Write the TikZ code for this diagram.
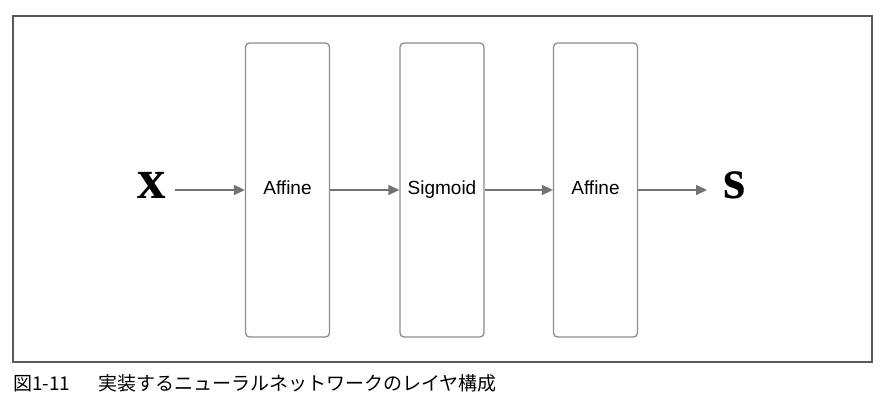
\documentclass[tikz,border=0pt]{standalone}
\usepackage{fontspec}
\setmainfont{Liberation Serif}
\setsansfont{Liberation Sans}
\newfontfamily\jpfont{Noto Sans CJK JP}
\usetikzlibrary{arrows.meta}
\tikzset{
  layer/.style={draw=black!45, line width=1.3pt, rounded corners=4pt,
    minimum width=84pt, minimum height=294pt, inner sep=0pt,
    text height=14pt, text depth=4pt,
    font=\sffamily\fontsize{19}{19}\selectfont},
  signal/.style={font=\bfseries\fontsize{57}{57}\selectfont, inner sep=0pt},
  flow/.style={draw=black!55, line width=1.6pt, -{Triangle[length=11pt,width=10pt]}}
}
\begin{document}
\begin{tikzpicture}[x=1pt,y=-1pt]
\useasboundingbox (0,0) rectangle (887,409);
\draw[black!65, line width=1.3pt] (13,16) rectangle (872,362);
\node[layer] (affA) at (287.5,190) {Affine};
\node[layer] (sigm) at (442,190) {Sigmoid};
\node[layer] (affB) at (595.5,190) {Affine};
\node[signal] (x) at (152,185) {x};
\node[signal] (s) at (735,185) {s};
\coordinate (xout) at (175,190);
\coordinate (sin) at (707,190);
\draw[flow] (xout) -- (affA);
\draw[flow] (affA) -- (sigm);
\draw[flow] (sigm) -- (affB);
\draw[flow] (affB) -- (sin);
\node[anchor=west, inner sep=0pt, font=\jpfont\fontsize{19}{19}\selectfont] (cap) at (13,383) {図1-11\hspace{28pt}実装するニューラルネットワークのレイヤ構成};
\end{tikzpicture}
\end{document}
